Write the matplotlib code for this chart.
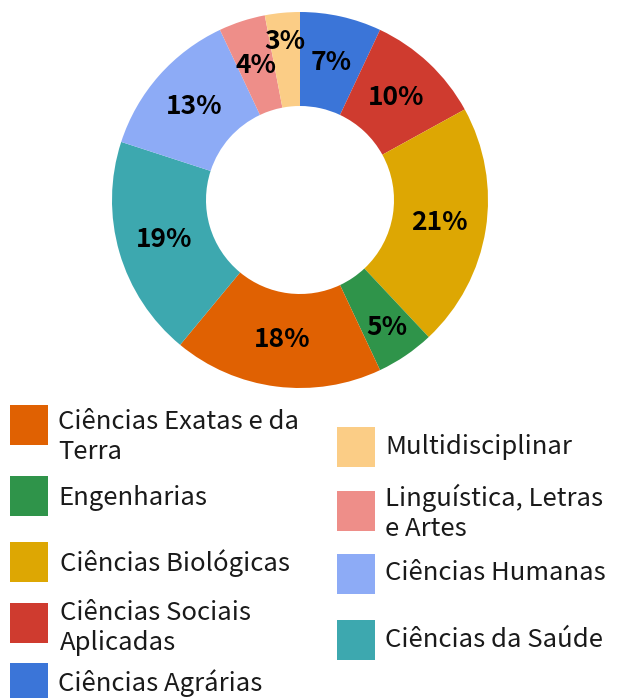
import matplotlib
matplotlib.use("Agg")
import matplotlib.pyplot as plt
import numpy as np
from matplotlib.patches import Rectangle

plt.rcParams['font.family'] = ['Noto Sans CJK JP', 'DejaVu Sans']

# Slices, clockwise from 12 o'clock
slice_names = ["Ciências Agrárias", "Ciências Sociais Aplicadas", "Ciências Biológicas",
               "Engenharias", "Ciências Exatas e da Terra", "Ciências da Saúde",
               "Ciências Humanas", "Linguística, Letras e Artes", "Multidisciplinar"]
slice_values = [7, 10, 21, 5, 18, 19, 13, 4, 3]
slice_colors = ["#3B75D8", "#CF3B2F", "#DDA703", "#2F944A", "#E06102", "#3DA8AF",
                "#8DABF6", "#EE8E89", "#FBCD86"]

# Legend entries (left column, then right column)
legend_left = ["Ciências Exatas e da\nTerra", "Engenharias", "Ciências Biológicas",
               "Ciências Sociais\nAplicadas", "Ciências Agrárias"]
legend_left_keys = ["Ciências Exatas e da Terra", "Engenharias", "Ciências Biológicas",
                    "Ciências Sociais Aplicadas", "Ciências Agrárias"]
legend_right = ["Multidisciplinar", "Linguística, Letras\ne Artes", "Ciências Humanas",
                "Ciências da Saúde"]
legend_right_keys = ["Multidisciplinar", "Linguística, Letras e Artes", "Ciências Humanas",
                     "Ciências da Saúde"]

W, H = 617, 698
fig = plt.figure(figsize=(W / 100, H / 100), dpi=100)

cx, cy, R = 300, 200, 188
ax = fig.add_axes([(cx - R) / W, (H - cy - R) / H, 2 * R / W, 2 * R / H])
wedges, _ = ax.pie(
    slice_values, colors=slice_colors, startangle=90, counterclock=False,
    radius=1.0, wedgeprops=dict(width=0.5, edgecolor='none'))
ax.set_xlim(-1, 1)
ax.set_ylim(-1, 1)
ax.set_aspect('equal')
ax.axis('off')

# percentage labels (small slices sit a little further out)
total = float(sum(slice_values))
for w, v in zip(wedges, slice_values):
    ang = np.deg2rad((w.theta1 + w.theta2) / 2)
    d = 0.845 if v <= 3 else (0.82 if v == 5 else 0.75)
    ax.text(d * np.cos(ang), d * np.sin(ang), f"{100 * v / total:.0f}%",
            ha='center', va='center', fontsize=19, fontweight='bold', color='black')

color_of = dict(zip(slice_names, slice_colors))

def px(x, y):
    return x / W, 1 - y / H

left_sq_y = [405, 476, 542, 603, 663]
left_txt_y = [437, 498, 563, 628, 683]
left_txt_x = [58, 58, 60, 60, 58]
right_sq_y = [427, 491, 554, 620]
right_txt_y = [447, 513, 573, 640]

def add_entry(sqx, sqy, tx, ty, key, label):
    x0, y0 = px(sqx, sqy + 40)
    fig.patches.append(Rectangle((x0, y0), 38 / W, 40 / H, transform=fig.transFigure,
                                 facecolor=color_of[key], edgecolor='none'))
    xt, yt = px(tx, ty)
    fig.text(xt, yt, label, ha='left', va='center', fontsize=18.5, color='#1a1a1a',
             linespacing=1.2)

for k, lab, sy, ty, tx in zip(legend_left_keys, legend_left, left_sq_y, left_txt_y, left_txt_x):
    add_entry(10, sy, tx, ty, k, lab)
for k, lab, sy, ty in zip(legend_right_keys, legend_right, right_sq_y, right_txt_y):
    add_entry(337, sy, 385, ty, k, lab)

fig.savefig("out.png", dpi=100)
